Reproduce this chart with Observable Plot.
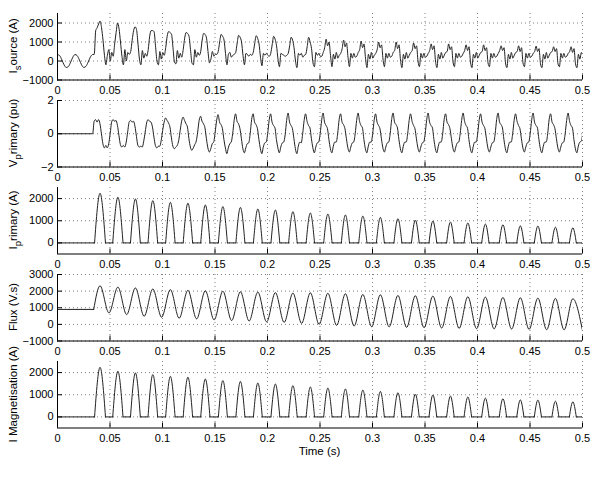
<!DOCTYPE html>
<html>
<head>
<meta charset="utf-8">
<script src="https://cdn.jsdelivr.net/npm/d3@7"></script>
<script src="https://cdn.jsdelivr.net/npm/@observablehq/plot@0.6"></script>
<style>
html,body{margin:0;padding:0;background:#fff;}
#chart{position:relative;width:597px;height:487px;overflow:hidden;font-family:"Liberation Sans",Arial,Helvetica,sans-serif;}
#chart svg{position:absolute;left:0;}
</style>
</head>
<body>
<div id="chart"></div>
<script>
// ---------- axis ticks ----------
const xTicks = [0, 0.05, 0.1, 0.15, 0.2, 0.25, 0.3, 0.35, 0.4, 0.45, 0.5];
const ticksIsource = [-1000, 0, 1000, 2000];
const ticksVprimary = [-2, 0, 2];
const ticksIprimary = [0, 1000, 2000];
const ticksFlux = [-1000, 0, 1000, 2000, 3000];
const ticksImag = [0, 1000, 2000];

// ---------- I source (A) ----------
const isourcePreStep = 1 / 480;          // sample spacing before switching
const isourcePre = [340, 280, 60, -200, -340, -290, -60, 200, 340, 280, 60, -200, -340, -280, -60, 200, 340];
const isourceStart = 0.035;              // first sample after switching
const isourceStep = 1 / 720;             // 12 samples per 60 Hz cycle
const isourceRows = [
  [350, 1600, 1750, 1950, 2100, 1750, 1100, 300, -200, 300, 600, 0],
  [450, 250, 900, 1500, 2000, 1700, 1000, 250, -200, 600, 0, 450],
  [350, 500, 1100, 1600, 1800, 1650, 900, 100, -200, 550, 150, 400],
  [250, 600, 1300, 1600, 1600, 1550, 800, 0, -200, 500, 100, 450],
  [300, 700, 1300, 1550, 1500, 1400, 700, -50, -150, 550, 150, 400],
  [200, 600, 1200, 1500, 1450, 1300, 600, -100, -200, 600, 200, 450],
  [300, 500, 1100, 1450, 1400, 1200, 500, -100, 100, 500, 250, 350],
  [350, 500, 1000, 1400, 1300, 1100, 400, -200, 350, 450, 200, 300],
  [350, 450, 950, 1350, 1250, 1000, 300, -200, 400, 350, 250, 350],
  [300, 450, 900, 1330, 1200, 900, 200, -250, 400, 300, 400, 300],
  [250, 400, 850, 1300, 1150, 800, 100, -300, 400, 350, 300, 250],
  [300, 400, 800, 1250, 1100, 700, 0, -350, 400, 300, 400, 200],
  [300, 350, 750, 1250, 1000, 650, -100, -300, 450, 300, 400, 250],
  [250, 450, 700, 1150, 800, 1000, 300, -300, 350, 100, 450, 150],
  [300, 400, 650, 1100, 750, 950, 200, -300, 400, 150, 400, 200],
  [250, 450, 600, 1050, 700, 900, 150, -350, 350, 100, 450, 150],
  [300, 400, 600, 1000, 700, 850, 100, -300, 400, 150, 400, 200],
  [250, 450, 550, 1000, 650, 850, 50, -350, 350, 100, 450, 150],
  [300, 450, 550, 950, 650, 800, 0, -300, 400, 150, 400, 200],
  [250, 400, 550, 900, 600, 800, 0, -350, 350, 100, 450, 150],
  [300, 450, 500, 900, 600, 750, -50, -300, 400, 150, 400, 200],
  [250, 400, 550, 850, 550, 750, -50, -350, 350, 150, 450, 150],
  [300, 450, 500, 850, 550, 700, -100, -300, 400, 150, 400, 200],
  [250, 400, 550, 800, 550, 700, -100, -350, 350, 100, 450, 150],
  [300, 450, 500, 800, 500, 700, -100, -300, 400, 150, 400, 200],
  [250, 400, 500, 780, 500, 650, -150, -350, 350, 100, 450, 150],
  [300, 450, 500, 750, 500, 650, -150, -300, 400, 150, 400, 200],
  [250, 400, 500, 750, 450, 650, -150, -350, 350, 100, 450, 250]
];

// ---------- V primary (pu) ----------
const vprimaryStart = 0.0335;
const vprimaryStep = 1 / 720;
const vprimaryRows = [
  [0.0, 0.75, 0.85, 0.7, 0.85, 0.6, 0.0, -0.6, -0.85, -0.7, -0.85, -0.6],
  [0.0, 0.7, 0.85, 0.75, 0.8, 0.5, -0.1, -0.65, -0.8, -0.7, -0.8, -0.5],
  [0.1, 0.7, 0.8, 0.7, 0.75, 0.45, -0.15, -0.7, -0.8, -0.75, -0.8, -0.45],
  [0.1, 0.65, 0.85, 0.75, 0.7, 0.4, -0.2, -0.7, -0.85, -0.75, -0.75, -0.4],
  [0.2, 0.7, 0.95, 0.8, 0.65, 0.4, -0.25, -0.75, -0.9, -0.8, -0.7, -0.4],
  [0.2, 0.75, 1.0, 0.8, 0.6, 0.4, -0.3, -0.8, -1.0, -0.85, -0.65, -0.45],
  [0.1, 0.8, 1.05, 0.75, 0.6, 0.35, -0.3, -0.85, -1.1, -0.9, -0.6, -0.5],
  [0.1, 0.8, 1.15, 0.7, 0.55, 0.3, -0.35, -0.85, -1.2, -0.85, -0.6, -0.5],
  [0.0, 0.8, 1.2, 0.75, 0.6, 0.3, -0.3, -0.9, -1.15, -0.85, -0.6, -0.55],
  [0.0, 0.85, 1.2, 0.7, 0.55, 0.3, -0.35, -0.9, -1.2, -0.8, -0.55, -0.5],
  [0.0, 0.8, 1.2, 0.7, 0.5, 0.35, -0.35, -0.85, -1.15, -0.8, -0.55, -0.5],
  [-0.05, 0.8, 1.25, 0.7, 0.5, 0.3, -0.3, -0.9, -1.2, -0.75, -0.5, -0.55],
  [0.0, 0.8, 1.2, 0.75, 0.5, 0.35, -0.3, -0.85, -1.15, -0.8, -0.55, -0.5],
  [0.0, 0.8, 1.25, 0.7, 0.5, 0.3, -0.35, -0.9, -1.15, -0.75, -0.5, -0.5],
  [0.0, 0.85, 1.2, 0.7, 0.55, 0.3, -0.3, -0.85, -1.1, -0.8, -0.55, -0.5],
  [0.0, 0.8, 1.25, 0.75, 0.5, 0.35, -0.35, -0.9, -1.15, -0.75, -0.5, -0.5],
  [0.0, 0.8, 1.2, 0.7, 0.5, 0.3, -0.3, -0.85, -1.1, -0.8, -0.55, -0.5],
  [0.0, 0.85, 1.25, 0.7, 0.55, 0.35, -0.35, -0.9, -1.15, -0.75, -0.5, -0.5],
  [0.0, 0.8, 1.2, 0.75, 0.5, 0.3, -0.3, -0.85, -1.1, -0.8, -0.55, -0.5],
  [0.0, 0.8, 1.25, 0.7, 0.5, 0.35, -0.35, -0.9, -1.15, -0.75, -0.5, -0.5],
  [0.0, 0.85, 1.2, 0.7, 0.55, 0.3, -0.3, -0.85, -1.1, -0.8, -0.55, -0.5],
  [0.0, 0.8, 1.25, 0.75, 0.5, 0.35, -0.35, -0.9, -1.15, -0.75, -0.5, -0.5],
  [0.0, 0.8, 1.2, 0.7, 0.5, 0.3, -0.3, -0.85, -1.1, -0.8, -0.55, -0.5],
  [0.0, 0.85, 1.25, 0.7, 0.55, 0.35, -0.35, -0.9, -1.15, -0.75, -0.5, -0.5],
  [0.0, 0.8, 1.2, 0.75, 0.5, 0.3, -0.3, -0.85, -1.1, -0.8, -0.55, -0.5],
  [0.0, 0.8, 1.25, 0.7, 0.5, 0.35, -0.35, -0.9, -1.15, -0.75, -0.5, -0.5],
  [0.0, 0.85, 1.2, 0.7, 0.55, 0.3, -0.3, -0.85, -1.1, -0.8, -0.55, -0.5],
  [0.0, 0.8, 1.25, 0.75, 0.5, 0.35, -0.35, -0.9, -1.15, -0.75, -0.5, -0.45, 0.0]
];

// ---------- cycle peak instants (s) ----------
const peakTimes = [0.0405, 0.0575, 0.0742, 0.0908, 0.1075, 0.1242, 0.1408, 0.1575, 0.1742, 0.1908,
  0.2075, 0.2242, 0.2408, 0.2575, 0.2742, 0.2908, 0.3075, 0.3242, 0.3408, 0.3575,
  0.3742, 0.3908, 0.4075, 0.4242, 0.4408, 0.4575, 0.4742, 0.4908];

// ---------- I primary / I magnetisation pulses (A) ----------
const pulsePeaks = [2240, 2060, 1985, 1910, 1830, 1790, 1710, 1640, 1600, 1530,
  1485, 1410, 1350, 1300, 1260, 1210, 1150, 1090, 1030, 990,
  940, 900, 850, 820, 770, 760, 710, 680];
const pulseHalfWidths = [0.0052, 0.0049, 0.0047, 0.0046, 0.0045, 0.0045, 0.0044, 0.0043, 0.0043, 0.0042,
  0.0042, 0.0041, 0.0040, 0.0040, 0.0039, 0.0039, 0.0038, 0.0038, 0.0037, 0.0037,
  0.0036, 0.0036, 0.0035, 0.0035, 0.0034, 0.0034, 0.0033, 0.0033];

// ---------- Flux (V.s) ----------
const fluxInitial = 900;
const fluxSwitchTime = 0.0345;
const fluxPeaks = [2320, 2240, 2190, 2130, 2090, 2050, 2020, 1990, 1960, 1940,
  1910, 1880, 1900, 1870, 1840, 1800, 1780, 1740, 1720, 1700,
  1680, 1660, 1640, 1620, 1600, 1580, 1560, 1540];
const fluxTroughs = [690, 590, 490, 430, 370, 330, 270, 230, 200, 150,
  120, 60, 0, -60, -100, -140, -150, -180, -200, -220,
  -240, -260, -270, -280, -300, -320, -330];
const fluxEnd = -380;

// ---------- labels ----------
const yLabels = [
  {parts: [["I"], ["s", "sub"], ["ource (A)", "back"]]},
  {parts: [["V"], ["p", "sub"], ["rimary (pu)", "back"]]},
  {parts: [["I"], ["p", "sub"], ["rimary (A)", "back"]]},
  {parts: [["Flux  (V.s)"]]},
  {parts: [["I Magnetisation (A)"]]}
];
const xLabel = "Time (s)";

// ---------- build tables ----------
const isourceData = [
  ...isourcePre.map((v, i) => ({t: i * isourcePreStep, v})),
  ...isourceRows.flat().map((v, i) => ({t: isourceStart + i * isourceStep, v}))
];
const vprimaryData = [
  {t: 0, v: 0},
  ...vprimaryRows.flat().map((v, i) => ({t: vprimaryStart + i * vprimaryStep, v}))
];
function pulseTable() {
  const base = [], pulses = [];
  let prevEnd = 0;
  peakTimes.forEach((tp, k) => {
    const hw = pulseHalfWidths[k];
    base.push({t: prevEnd, v: 0, z: k}, {t: tp - hw, v: 0, z: k});
    pulses.push({t: tp - hw, v: 0, z: k}, {t: tp, v: pulsePeaks[k], z: k}, {t: tp + hw, v: 0, z: k});
    prevEnd = tp + hw;
  });
  base.push({t: prevEnd, v: 0, z: "end"}, {t: 0.5, v: 0, z: "end"});
  return {base, pulses};
}
const pulseData = pulseTable();
const fluxData = [{t: 0, v: fluxInitial, z: "pre"}, {t: fluxSwitchTime, v: fluxInitial, z: "pre"},
  {t: fluxSwitchTime, v: fluxInitial, z: "osc"}];
peakTimes.forEach((tp, k) => {
  fluxData.push({t: tp, v: fluxPeaks[k], z: "osc"});
  if (k < fluxTroughs.length) fluxData.push({t: (tp + peakTimes[k + 1]) / 2, v: fluxTroughs[k], z: "osc"});
});
fluxData.push({t: 0.5, v: fluxEnd, z: "osc"});

// ---------- layout ----------
const W = 597, H = 487;
const ML = 57, MR = 15, MT = 3, MB = 17.5, FRAME_H = 66.5;
const panelTops = [12.5, 99.6, 186.7, 273.8, 360.9];
const FONT = '"Liberation Sans", Arial, Helvetica, sans-serif';
const LINE = "#222";

const fmt = d => d < 0 ? "\u2212" + Math.abs(d) : String(d);
const gridStyle = {stroke: "#000", strokeOpacity: 0.5, strokeDasharray: "1,3", strokeWidth: 1};

function panel(top, yDomain, yTicks, dataMarks) {
  const svg = Plot.plot({
    width: W, height: FRAME_H + MT + MB,
    marginLeft: ML, marginRight: MR, marginTop: MT, marginBottom: MB,
    x: {domain: [0, 0.5], label: null},
    y: {domain: yDomain, label: null},
    style: {fontFamily: FONT, fontSize: "11px", background: "transparent", color: "#000", overflow: "visible"},
    marks: [
      Plot.gridX(xTicks, gridStyle),
      Plot.gridY(yTicks, gridStyle),
      ...dataMarks,
      Plot.ruleX([0], {stroke: "#000"}),
      Plot.ruleY([yDomain[0]], {stroke: "#000"}),
      Plot.axisX(xTicks, {tickSize: -5, tickPadding: 11.5, tickFormat: fmt, label: null, fontSize: 11}),
      Plot.axisY(yTicks, {tickSize: -5, tickPadding: 9, tickFormat: fmt, label: null, fontSize: 11})
    ]
  });
  svg.style.top = (top - MT) + "px";
  document.getElementById("chart").appendChild(svg);
}

const lineOpts = {x: "t", y: "v", stroke: LINE, strokeWidth: 1, clip: true};

panel(panelTops[0], [-1000, 2500], ticksIsource, [
  Plot.line(isourceData, {...lineOpts, curve: "monotone-x"})
]);
panel(panelTops[1], [-2, 2], ticksVprimary, [
  Plot.line(vprimaryData, {...lineOpts, curve: "monotone-x"})
]);
panel(panelTops[2], [-500, 2500], ticksIprimary, [
  Plot.line(pulseData.base, {...lineOpts, z: "z"}),
  Plot.line(pulseData.pulses, {...lineOpts, z: "z", curve: "monotone-x"})
]);
panel(panelTops[3], [-1000, 3000], ticksFlux, [
  Plot.line(fluxData, {...lineOpts, z: "z", curve: "monotone-x"})
]);
panel(panelTops[4], [-500, 2500], ticksImag, [
  Plot.line(pulseData.base, {...lineOpts, z: "z"}),
  Plot.line(pulseData.pulses, {...lineOpts, z: "z", curve: "monotone-x"})
]);

// ---------- overlay text (axis titles) ----------
const ov = d3.select("#chart").append("svg")
  .attr("width", W).attr("height", H)
  .style("top", "0px").style("pointer-events", "none")
  .style("font-family", FONT);
yLabels.forEach((lab, i) => {
  const cy = panelTops[i] + FRAME_H / 2;
  const t = ov.append("text")
    .attr("transform", `translate(17,${cy}) rotate(-90)`)
    .attr("text-anchor", "middle").attr("font-size", 11.5).attr("fill", "#000");
  lab.parts.forEach(([txt, kind]) => {
    const ts = t.append("tspan").text(txt);
    if (kind === "sub") ts.attr("dy", 3.5).attr("font-size", 9.5);
    if (kind === "back") ts.attr("dy", -3.5);
  });
});
ov.append("text")
  .attr("x", ML + (W - ML - MR) / 2).attr("y", 455)
  .attr("text-anchor", "middle").attr("font-size", 11.5).attr("fill", "#000")
  .text(xLabel);
</script>
</body>
</html>
